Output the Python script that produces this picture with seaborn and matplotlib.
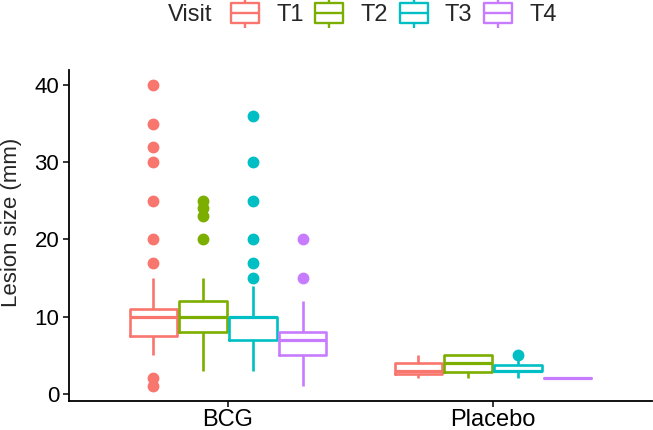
import numpy as np
import pandas as pd
import seaborn as sns
import matplotlib.pyplot as plt
from matplotlib.path import Path
from matplotlib.lines import Line2D

# lesion sizes (mm) per treatment group and visit
visits = ["T1", "T2", "T3", "T4"]
groups = ["BCG", "Placebo"]

bcg_t1 = [1, 2, 5, 5, 6, 6, 7, 7, 7, 7, 7.5, 8, 8, 9, 9, 9,
          10, 10, 10, 10, 10, 10, 10, 10, 10, 10, 10, 10,
          11, 11, 11, 12, 13, 15, 17, 20, 25, 30, 32, 35, 40]
bcg_t2 = [3, 4, 5, 5, 6, 6, 7, 7, 7, 8, 8, 8, 8, 9, 9, 9,
          10, 10, 10, 10, 10, 10, 10, 10, 11, 11, 11, 12, 12, 12, 12,
          12, 13, 13, 14, 15, 15, 20, 23, 24, 25]
bcg_t3 = [3, 4, 5, 5, 5, 6, 6, 6, 7, 7, 7, 8, 8, 9, 9,
          10, 10, 10, 10, 10, 10, 10, 10, 10, 10, 10, 10, 10, 10, 10, 10,
          11, 12, 13, 14, 15, 17, 20, 25, 30, 36]
bcg_t4 = [1, 2, 3, 3, 4, 4, 4, 5, 5, 5, 5, 5, 6, 6, 6, 6, 7, 7, 7, 7,
          7, 7, 7, 7, 8, 8, 8, 8, 8, 8, 8, 9, 9, 10, 10, 10, 11, 11, 12,
          15, 20]
pla_t1 = [2, 2, 2.5, 3, 3, 3.5, 4, 4.5, 5]
pla_t2 = [2, 2.5, 2.75, 3, 4, 4.5, 5, 5, 5]
pla_t3 = [2, 3, 3, 3, 3, 3.5, 3.75, 4.5, 5]
pla_t4 = [2, 2, 2, 2, 2]

series = {
    ("BCG", "T1"): bcg_t1, ("BCG", "T2"): bcg_t2,
    ("BCG", "T3"): bcg_t3, ("BCG", "T4"): bcg_t4,
    ("Placebo", "T1"): pla_t1, ("Placebo", "T2"): pla_t2,
    ("Placebo", "T3"): pla_t3, ("Placebo", "T4"): pla_t4,
}
rows = [(g, v, x) for (g, v), vals in series.items() for x in vals]
df = pd.DataFrame(rows, columns=["group", "Visit", "size"])

colors = ["#F8766D", "#7CAE00", "#00BFC4", "#C77CFF"]

sns.set_style("white")
plt.rcParams["font.family"] = ["Liberation Sans", "DejaVu Sans"]

fig = plt.figure(figsize=(6.53, 4.30), dpi=100)
ax = fig.add_axes([69 / 653, 29 / 430, 583 / 653, 331 / 430])

sns.boxplot(data=df, x="group", y="size", hue="Visit", order=groups,
            hue_order=visits, palette=colors, fill=False, width=0.75,
            gap=0.04, linewidth=1.9, whis=1.5, showcaps=False,
            flierprops=dict(marker="o", markersize=7.5),
            medianprops=dict(linewidth=2.3), legend=False, ax=ax)

# filled outlier dots like ggplot
for ln in ax.lines:
    if ln.get_marker() not in (None, "", "None"):
        ln.set_markerfacecolor(ln.get_markeredgecolor())

ax.set_xlim(-0.6, 1.6)
ax.set_ylim(-0.95, 41.95)
ax.set_yticks([0, 10, 20, 30, 40])
ax.set_xlabel("")
ax.set_ylabel("Lesion size (mm)", fontsize=16)
ax.yaxis.set_label_coords(-0.0806, 0.541)
ax.tick_params(axis="both", length=4, width=1.1, color="black",
               labelcolor="black", direction="out", left=True, bottom=True,
               pad=3)
ax.tick_params(axis="y", labelsize=16)
ax.tick_params(axis="x", labelsize=17, pad=1.5)
for s in ["top", "right"]:
    ax.spines[s].set_visible(False)
for s in ["left", "bottom"]:
    ax.spines[s].set_color("black")
    ax.spines[s].set_linewidth(1.3)

# legend glyph: small box with median line and whisker stubs
verts = [(-0.47, -0.33), (0.47, -0.33), (0.47, 0.33), (-0.47, 0.33), (-0.47, -0.33),
         (-0.47, 0.0), (0.47, 0.0),
         (0.0, 0.33), (0.0, 0.5),
         (0.0, -0.33), (0.0, -0.5)]
codes = [Path.MOVETO, Path.LINETO, Path.LINETO, Path.LINETO, Path.CLOSEPOLY,
         Path.MOVETO, Path.LINETO,
         Path.MOVETO, Path.LINETO,
         Path.MOVETO, Path.LINETO]
glyph = Path(verts, codes)
handles = [Line2D([], [], linestyle="", marker=glyph, markersize=21.5,
                  markerfacecolor="none", markeredgecolor=c,
                  markeredgewidth=1.7) for c in colors]
fig.legend(handles, visits, ncol=4, loc="center left",
           bbox_to_anchor=(231 / 653, 1 - 15 / 430), frameon=False,
           fontsize=17, handlelength=1.19, handletextpad=0.72,
           columnspacing=0.5, borderpad=0, borderaxespad=0)
fig.text(168 / 653, 1 - 15 / 430, "Visit", fontsize=17, ha="left", va="center")

fig.savefig("out.png", dpi=100)
